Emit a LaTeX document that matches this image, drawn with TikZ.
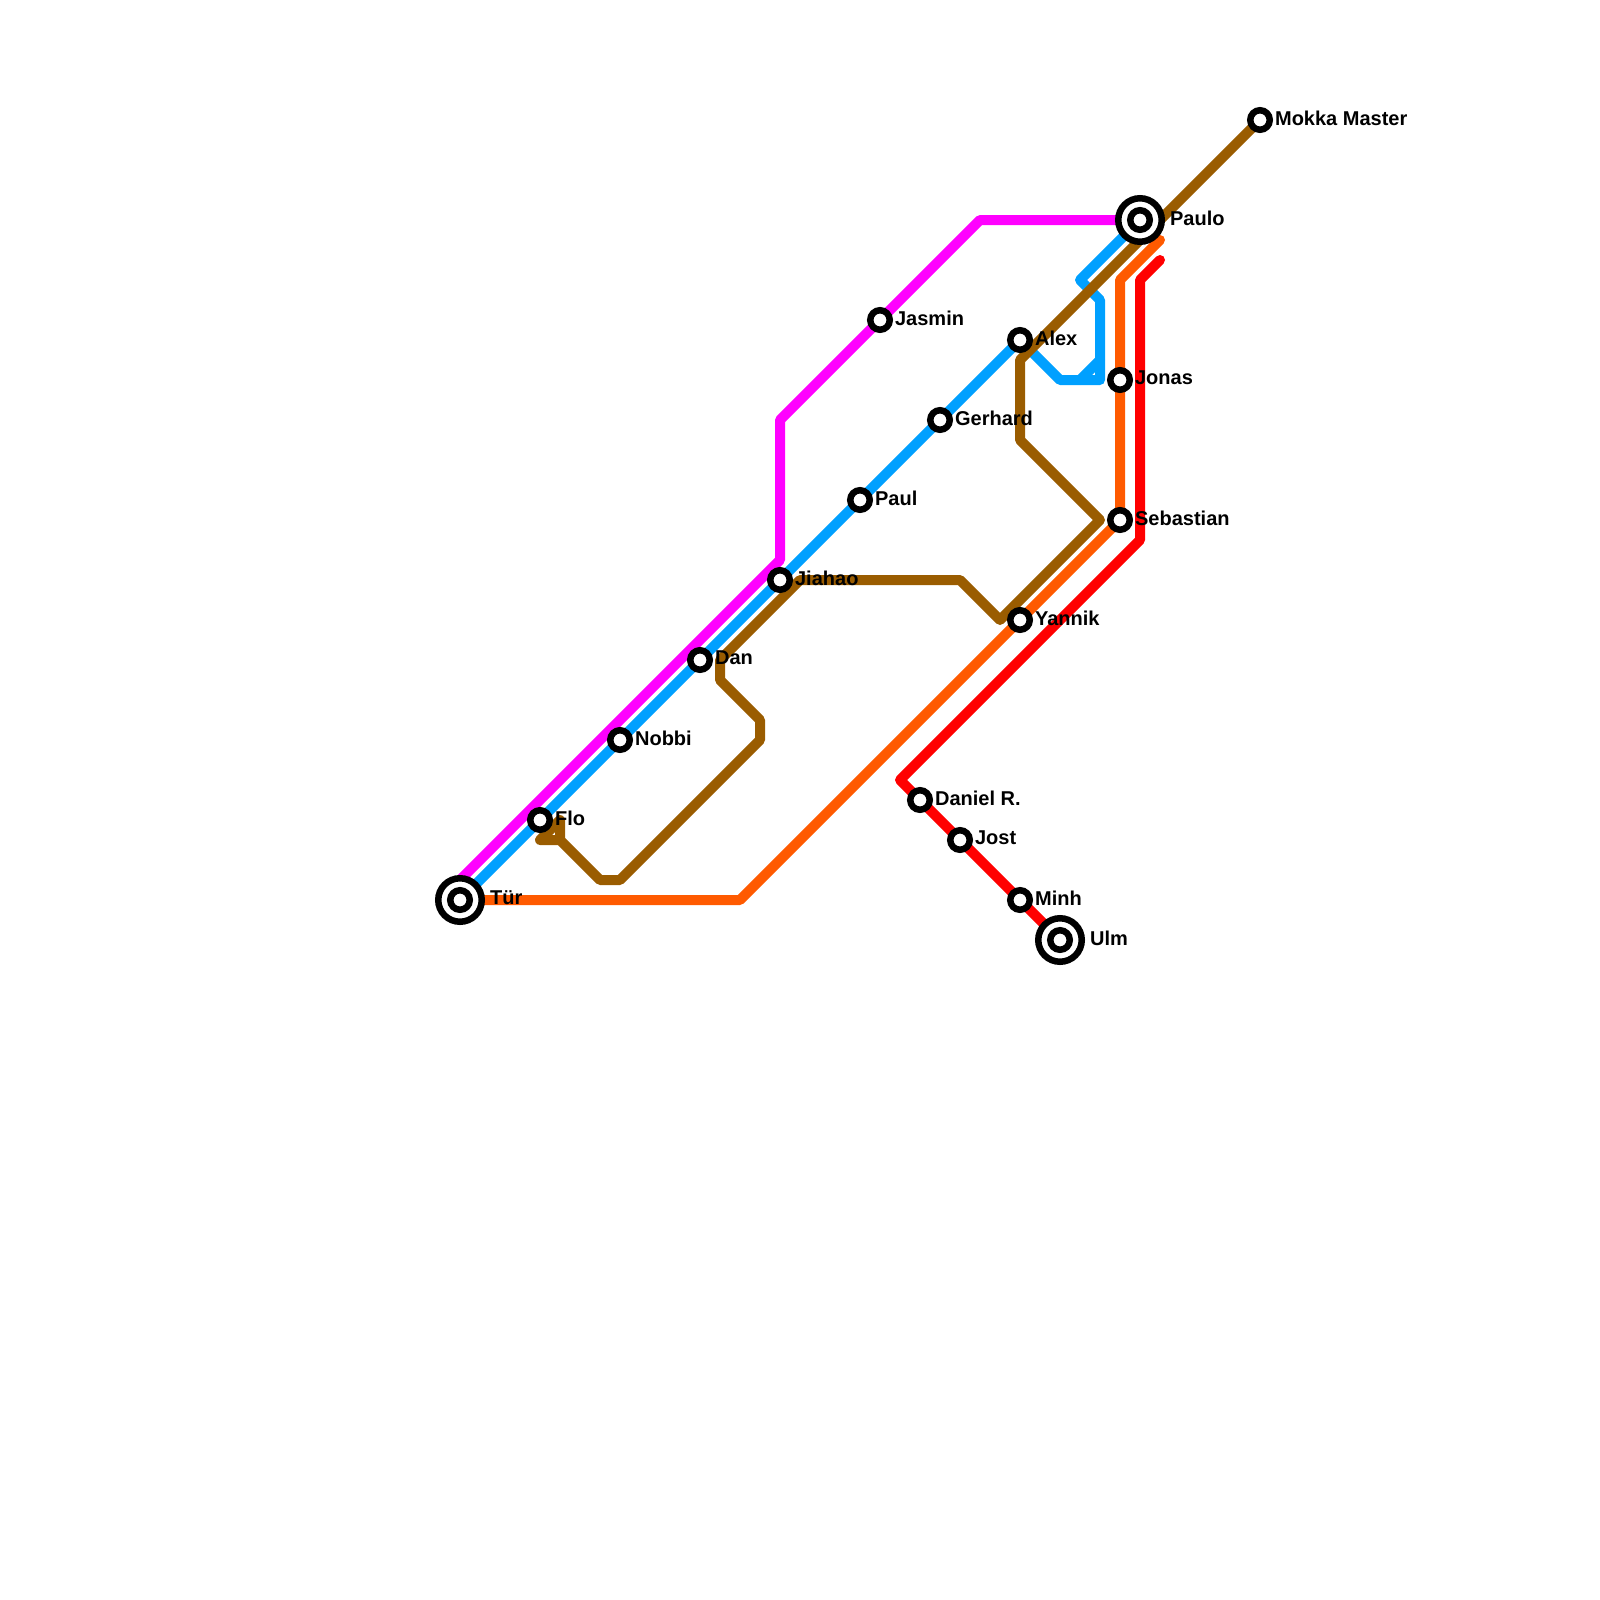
\documentclass[tikz,border=0pt]{standalone}
\usepackage{fontspec}
\setmainfont{Liberation Sans}
\usepackage{tikz}
\usetikzlibrary{positioning,backgrounds}
\definecolor{metromagenta}{HTML}{FF00FF}
\definecolor{metroblue}{HTML}{00A0FF}
\definecolor{metroorange}{HTML}{FF5A00}
\definecolor{metrobrown}{HTML}{9A5C00}
\definecolor{metrored}{HTML}{FF0000}
\tikzset{
    metroline/.style={line width=5pt, line cap=round, line join=round},
    stationstop/.style={circle, draw=black, fill=white, line width=3.25pt, inner sep=0pt, minimum size=9.75pt},
    hubstop/.style={circle, draw=black, fill=white, line width=3.25pt, inner sep=0pt, minimum size=21.75pt},
    stationname/.style={font=\bfseries\fontsize{10}{12}\selectfont, inner sep=0pt, yshift=1pt},
    hubname/.style={stationname}
}
\begin{document}
\begin{tikzpicture}[x=0.5pt, y=-0.5pt, node distance=0.85pt]
        \useasboundingbox (0,0) rectangle (1600,1600);

        \node[hubstop] (tuer) at (460,900) {};
        \node[stationstop] (tuerinner) at (460,900) {};
        \node[hubstop] (paulo) at (1140,220) {};
        \node[stationstop] (pauloinner) at (1140,220) {};
        \node[hubstop] (ulm) at (1060,940) {};
        \node[stationstop] (ulminner) at (1060,940) {};

        \node[stationstop] (flo) at (540,820) {};
        \node[stationstop] (nobbi) at (620,740) {};
        \node[stationstop] (dan) at (700,660) {};
        \node[stationstop] (jiahao) at (780,580) {};
        \node[stationstop] (paul) at (860,500) {};
        \node[stationstop] (gerhard) at (940,420) {};
        \node[stationstop] (alex) at (1020,340) {};
        \node[stationstop] (jasmin) at (880,320) {};
        \node[stationstop] (mokka) at (1260,120) {};
        \node[stationstop] (jonas) at (1120,380) {};
        \node[stationstop] (sebastian) at (1120,520) {};
        \node[stationstop] (yannik) at (1020,620) {};
        \node[stationstop] (danielr) at (920,800) {};
        \node[stationstop] (jost) at (960,840) {};
        \node[stationstop] (minh) at (1020,900) {};

        \node[hubname, right=2.35pt of tuer] (tuerlabel) {Tür};
        \node[hubname, right=2.35pt of paulo] (paulolabel) {Paulo};
        \node[hubname, right=2.35pt of ulm] (ulmlabel) {Ulm};
        \node[stationname, right=of flo] (flolabel) {Flo};
        \node[stationname, right=of nobbi] (nobbilabel) {Nobbi};
        \node[stationname, right=of dan] (danlabel) {Dan};
        \node[stationname, right=of jiahao] (jiahaolabel) {Jiahao};
        \node[stationname, right=of paul] (paullabel) {Paul};
        \node[stationname, right=of gerhard] (gerhardlabel) {Gerhard};
        \node[stationname, right=of alex] (alexlabel) {Alex};
        \node[stationname, right=of jasmin] (jasminlabel) {Jasmin};
        \node[stationname, right=of mokka] (mokkalabel) {Mokka Master};
        \node[stationname, right=of jonas] (jonaslabel) {Jonas};
        \node[stationname, right=of sebastian] (sebastianlabel) {Sebastian};
        \node[stationname, right=of yannik] (yanniklabel) {Yannik};
        \node[stationname, right=of danielr] (danielrlabel) {Daniel R.};
        \node[stationname, right=of jost] (jostlabel) {Jost};
        \node[stationname, right=of minh] (minhlabel) {Minh};

        \coordinate (orangeend) at (1160,240);
        \coordinate (redend) at (1160,260);

        \begin{scope}[on background layer]
        \draw[metroline, metromagenta] (tuer.center) -- ++(0,-20) -- (780,560) -- (780,420) -- (jasmin.center) -- (980,220) -- (paulo.center);
        \draw[metroline, metroblue] (tuer.center) -- (flo.center) -- (nobbi.center) -- (dan.center) -- (jiahao.center) -- (paul.center) -- (gerhard.center) -- (alex.center) -- (1060,380) -- (1100,380) -- (1100,300) -- (1080,280) -- (paulo.center);
        \draw[metroline, metroblue] (1080,380) -- (1100,360);
        \draw[metroline, metroorange] (tuer.center) -- (740,900) -- (yannik.center) -- (sebastian.center) -- (jonas.center) -- (1120,280) -- (orangeend);
        \draw[metroline, metrored] (ulm.center) -- (minh.center) -- (jost.center) -- (danielr.center) -- (900,780) -- (1140,540) -- (1140,280) -- (redend);
        \draw[metroline, metrobrown] (mokka.center) -- (1020,360) -- (1020,440) -- (1100,520) -- (1000,620) -- (960,580) -- (800,580) -- (720,660) -- (720,680) -- (760,720) -- (760,740) -- (620,880) -- (600,880) -- (560,840) -- (540,840) -- (560,820) -- (560,840);
        \end{scope}
    \end{tikzpicture}
\end{document}
